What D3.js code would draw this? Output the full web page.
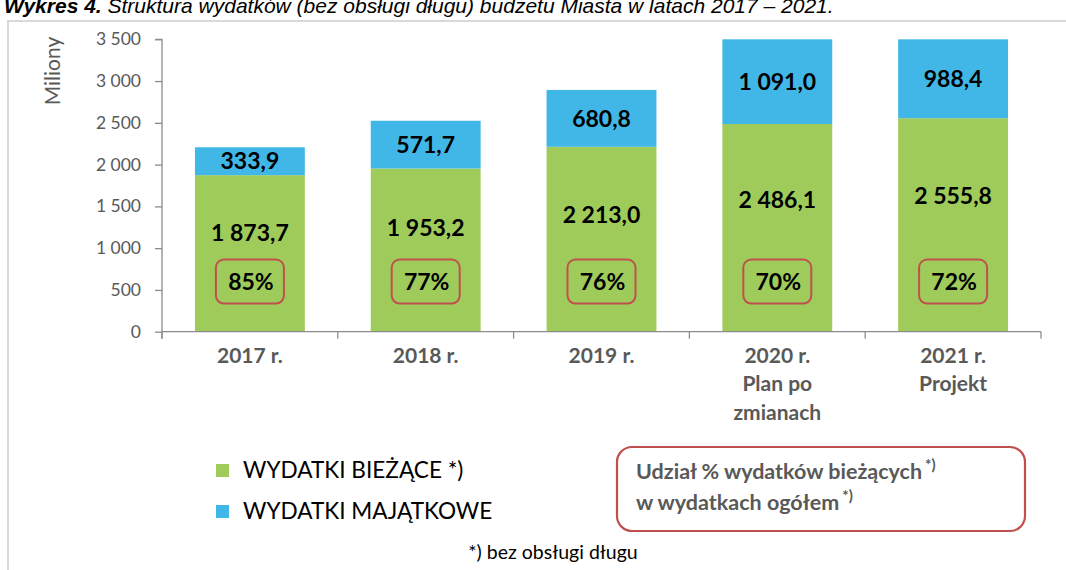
<!DOCTYPE html>
<html>
<head>
<meta charset="utf-8">
<script src="https://cdn.jsdelivr.net/npm/d3@7"></script>
<style>
  body { margin: 0; background: #fff; }
  svg { display: block; font-family: Lato, "Open Sans", sans-serif; }
</style>
</head>
<body>
<div id="chart"></div>
<script>

	// values (mln zł)
	var years = ["2017 r.", "2018 r.", "2019 r.", "2020 r.", "2021 r."];
	var yearNotes = [[], [], [], ["Plan po", "zmianach"], ["Projekt"]];
	var biezace = [1873.7, 1953.2, 2213.0, 2486.1, 2555.8];
	var majatkowe = [333.9, 571.7, 680.8, 1091.0, 988.4];
	var shares = [85, 77, 76, 70, 72];
	var yTicks = [0, 500, 1000, 1500, 2000, 2500, 3000, 3500];

	var green = "#9fcb5b", blue = "#41b7e8", red = "#c0504d", grey = "#595959";

	var W = 1066, H = 570;
	var left = 162, right = 1041, y0 = 331.7, yTop = 39.3;

	var pl = d3.formatLocale({decimal: ",", thousands: " ", grouping: [3], currency: ["", ""]});
	var fmt1 = pl.format(",.1f"), fmt0 = pl.format(",.0f");

	var svg = d3.select("#chart").append("svg").attr("width", W).attr("height", H);

	// title, cut at the top in the source picture
	var title = svg.append("text").attr("x", 4).attr("y", 13)
		.style("font-family", "'Liberation Sans', Arial, sans-serif")
		.style("font-size", "21px").style("font-style", "italic").attr("fill", "#000");
	title.append("tspan").style("font-weight", "bold").text("Wykres 4.");
	title.append("tspan").text(" Struktura wydatków (bez obsługi długu) budżetu Miasta w latach 2017 – 2021.");

	// frame
	svg.append("path").attr("d", "M8," + H + "V21H" + W)
		.attr("fill", "none").attr("stroke", "#d9d9d9").attr("stroke-width", 2);

	var x = d3.scaleBand().domain(years).range([left, right]).paddingInner(0.375).paddingOuter(0.1875);
	var y = d3.scaleLinear().domain([0, 3500]).range([y0, yTop]).clamp(true);

	var rows = years.map(function(d, i){
		return {year: d, b: biezace[i], m: majatkowe[i], share: shares[i], notes: yearNotes[i]};
	});

	// y axis
	var yAxis = svg.append("g").attr("transform", "translate(" + left + ",0)")
		.call(d3.axisLeft(y).tickValues(yTicks).tickSize(7).tickPadding(14).tickFormat(fmt0));
	yAxis.select(".domain").attr("stroke", "#8c8c8c").attr("stroke-width", 1.3)
		.attr("d", "M-7," + yTop + "H0V" + (y0 + 7));
	yAxis.selectAll(".tick line").attr("stroke", "#8c8c8c").attr("stroke-width", 1.3);
	yAxis.selectAll(".tick text").attr("fill", grey).style("font-size", "17.5px").style("font-family", "Lato, sans-serif");

	svg.append("text")
		.attr("transform", "translate(60," + 71 + ") rotate(-90)")
		.attr("text-anchor", "middle").attr("fill", grey)
		.style("font-size", "21px").text("Miliony");

	// bars
	var bars = svg.append("g").selectAll("g").data(rows).enter().append("g");

	bars.append("rect")
		.attr("x", function(d){ return x(d.year); })
		.attr("width", x.bandwidth())
		.attr("y", function(d){ return y(d.b); })
		.attr("height", function(d){ return y0 - y(d.b); })
		.attr("fill", green);

	bars.append("rect")
		.attr("x", function(d){ return x(d.year); })
		.attr("width", x.bandwidth())
		.attr("y", function(d){ return y(d.b + d.m); })
		.attr("height", function(d){ return y(d.b) - y(d.b + d.m); })
		.attr("fill", blue);

	var cx = function(d){ return x(d.year) + x.bandwidth() / 2; };

	bars.append("text")
		.attr("x", cx)
		.attr("y", function(d){ return (y(d.b) + y(d.b + d.m)) / 2; })
		.attr("dy", "0.36em").attr("text-anchor", "middle")
		.style("font-size", "23px").style("font-weight", "bold").attr("fill", "#000")
		.text(function(d){ return fmt1(d.m); });

	bars.append("text")
		.attr("x", cx)
		.attr("y", function(d){ return y(d.b * 0.635); })
		.attr("dy", "0.36em").attr("text-anchor", "middle")
		.style("font-size", "23px").style("font-weight", "bold").attr("fill", "#000")
		.text(function(d){ return fmt1(d.b); });

	// share boxes
	bars.append("rect")
		.attr("x", function(d){ return cx(d) - 34; })
		.attr("y", y(600) - 22)
		.attr("width", 68).attr("height", 44).attr("rx", 8)
		.attr("fill", "none").attr("stroke", red).attr("stroke-width", 2);

	bars.append("text")
		.attr("x", function(d){ return cx(d) + 1; })
		.attr("y", y(600))
		.attr("dy", "0.36em").attr("text-anchor", "middle")
		.style("font-size", "23px").style("font-weight", "bold").attr("fill", "#000")
		.text(function(d){ return d.share + "%"; });

	// x axis
	var xAxis = svg.append("g").attr("transform", "translate(0," + y0 + ")");
	xAxis.append("line").attr("x1", left).attr("x2", right)
		.attr("stroke", "#8c8c8c").attr("stroke-width", 1.3);
	xAxis.selectAll("line.tk").data(d3.range(years.length + 1)).enter().append("line")
		.attr("class", "tk")
		.attr("x1", function(i){ return left + i * x.step(); })
		.attr("x2", function(i){ return left + i * x.step(); })
		.attr("y1", 0).attr("y2", 7)
		.attr("stroke", "#8c8c8c").attr("stroke-width", 1.3);

	var xl = xAxis.selectAll("text").data(rows).enter().append("text")
		.attr("text-anchor", "middle").attr("fill", grey)
		.style("font-size", "21px").style("font-weight", "bold");
	xl.each(function(d){
		var t = d3.select(this);
		[d.year].concat(d.notes).forEach(function(s, k){
			t.append("tspan").attr("x", cx(d)).attr("y", 31 + k * 28.5).text(s);
		});
	});

	// legend
	var legend = [["WYDATKI BIEŻĄCE *)", green], ["WYDATKI MAJĄTKOWE", blue]];
	var lg = svg.append("g").selectAll("g").data(legend).enter().append("g")
		.attr("transform", function(d, i){ return "translate(216," + (470 + i * 41) + ")"; });
	lg.append("rect").attr("x", 0).attr("y", -6).attr("width", 13).attr("height", 13)
		.attr("fill", function(d){ return d[1]; });
	lg.append("text").attr("x", 27).attr("y", 8).attr("fill", "#000")
		.style("font-size", "22.6px").text(function(d){ return d[0]; });

	// share note box
	svg.append("rect").attr("x", 617).attr("y", 447).attr("width", 408).attr("height", 84).attr("rx", 15)
		.attr("fill", "none").attr("stroke", red).attr("stroke-width", 2.2);

	var note = svg.append("g").attr("fill", grey).style("font-weight", "bold").style("font-size", "21.5px");
	var notes = [["Udział % wydatków bieżących", 479], ["w wydatkach ogółem", 510]];
	notes.forEach(function(n){
		note.append("text").attr("x", 636).attr("y", n[1]).text(n[0]);
		var w = note.select("text:last-child").node().getComputedTextLength();
		note.append("text").attr("x", 636 + w + 3).attr("y", n[1] - 9)
			.style("font-size", "15px").text("*)");
	});

	svg.append("text").attr("x", 553).attr("y", 559).attr("text-anchor", "middle")
		.attr("fill", "#000").style("font-size", "19.5px").text("*) bez obsługi długu");

</script>
</body>
</html>
